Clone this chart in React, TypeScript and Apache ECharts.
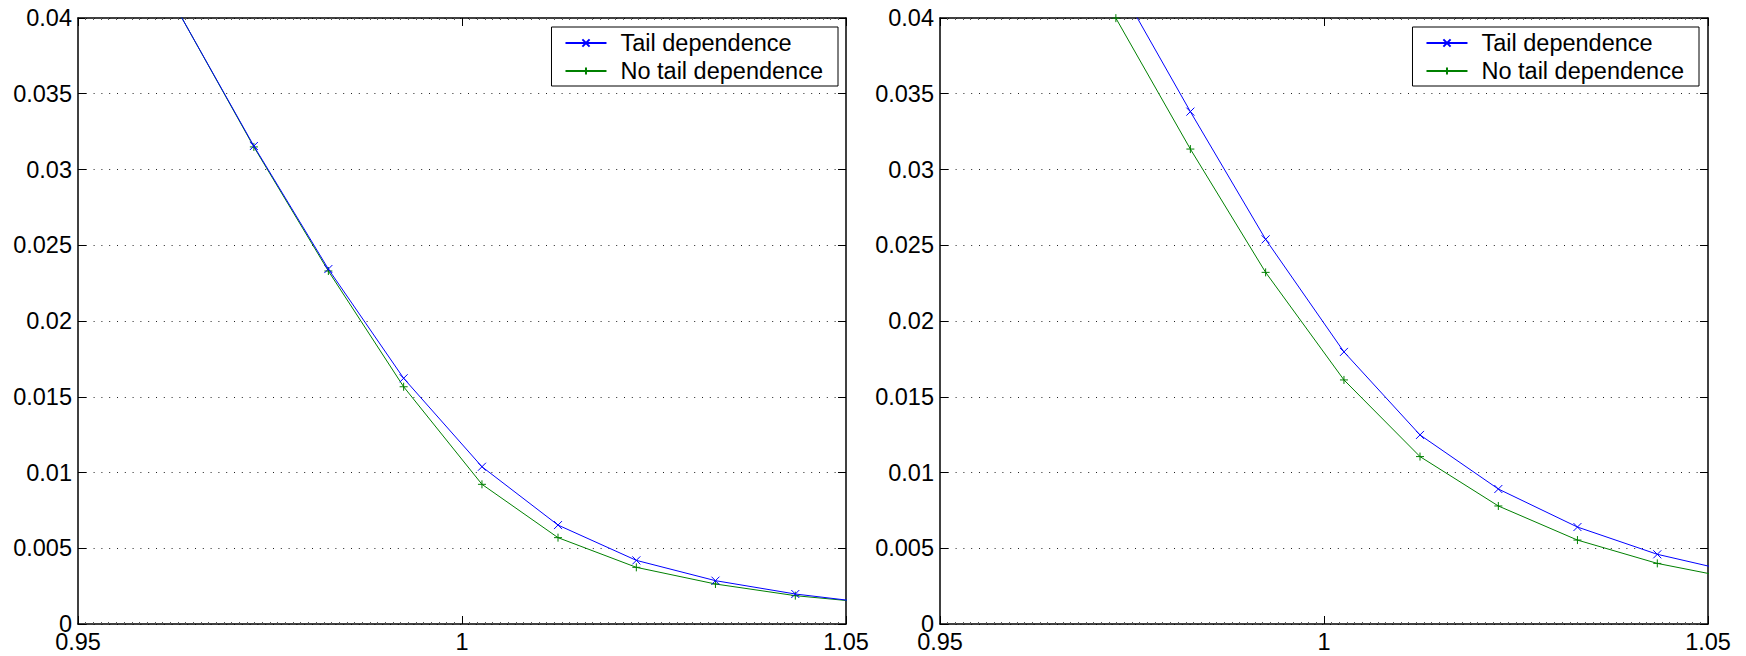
import React, { useEffect, useRef } from "react";
import * as echarts from "echarts";

// Shared x positions of the points
const X_VALUES = [0.9632, 0.9729, 0.9826, 0.9924, 1.0026, 1.0125, 1.0227, 1.033, 1.0434, 1.054];

// Left panel
const LEFT_TAIL = [0.0403, 0.03155, 0.02343, 0.01622, 0.01038, 0.00653, 0.0042, 0.00286, 0.00198, 0.00134];
const LEFT_NO_TAIL = [0.0403, 0.03149, 0.0233, 0.01566, 0.00922, 0.0057, 0.00374, 0.00264, 0.00187, 0.00136];

// Right panel
const RIGHT_TAIL = [0.0515, 0.0425, 0.03382, 0.02539, 0.01796, 0.01248, 0.00891, 0.0064, 0.0046, 0.00336];
const RIGHT_NO_TAIL = [0.0492, 0.03999, 0.03135, 0.02321, 0.01611, 0.01105, 0.00779, 0.00554, 0.004, 0.00294];

const SERIES_NAMES = ["Tail dependence", "No tail dependence"];
const X_MIN = 0.95;
const X_MAX = 1.05;
const X_STEP = 0.05;
const Y_MIN = 0;
const Y_MAX = 0.04;
const Y_STEP = 0.005;

const FONT = "'Liberation Sans', Arial, Helvetica, sans-serif";
const BLUE = "#0000ff";
const GREEN = "#008000";
const CROSS = "path://M0,0L10,10M10,0L0,10";
const PLUS = "path://M5,0L5,10M0,5L10,5";

export default function App() {
  const ref = useRef<HTMLDivElement>(null);

  useEffect(() => {
    if (!ref.current) return;
    const chart = echarts.init(ref.current, undefined, { renderer: "svg" });

    const grids = [
      { left: 78, top: 18, width: 768, height: 606 },
      { left: 940, top: 18, width: 768, height: 606 },
    ];

    const xAxes: any[] = [];
    const yAxes: any[] = [];
    grids.forEach((_, g) => {
      const baseX = {
        type: "value",
        gridIndex: g,
        min: X_MIN,
        max: X_MAX,
        interval: X_STEP,
        axisLine: { show: true, onZero: false, lineStyle: { color: "#000", width: 1.5 } },
        axisTick: { show: true, inside: true, length: 8, lineStyle: { color: "#000" } },
        minorTick: { show: true, splitNumber: 50, length: 2, lineStyle: { color: "#555" } },
        splitLine: { show: false },
      };
      xAxes.push({
        ...baseX,
        position: "bottom",
        axisLabel: {
          show: true,
          margin: 9,
          color: "#000",
          fontFamily: FONT,
          fontSize: 23.5,
          lineHeight: 17,
          formatter: (v: number) => String(parseFloat(v.toFixed(2))),
        },
      });
      xAxes.push({ ...baseX, position: "top", axisLabel: { show: false } });

      const baseY = {
        type: "value",
        gridIndex: g,
        min: Y_MIN,
        max: Y_MAX,
        interval: Y_STEP,
        axisLine: { show: true, onZero: false, lineStyle: { color: "#000", width: 1.5 } },
        axisTick: { show: true, inside: true, length: 8, lineStyle: { color: "#000" } },
      };
      yAxes.push({
        ...baseY,
        position: "left",
        splitLine: { show: true, lineStyle: { color: "#222", type: [1, 6.8], width: 1 } },
        axisLabel: {
          show: true,
          margin: 6,
          color: "#000",
          fontFamily: FONT,
          fontSize: 23.5,
          lineHeight: 17,
          formatter: (v: number) => String(parseFloat(v.toFixed(3))),
        },
      });
      yAxes.push({ ...baseY, position: "right", splitLine: { show: false }, axisLabel: { show: false } });
    });

    const mk = (name: string, vals: number[], color: string, symbol: string, g: number) => ({
      name,
      type: "line",
      xAxisIndex: g * 2,
      yAxisIndex: g * 2,
      data: X_VALUES.map((x, i) => [x, vals[i]]),
      clip: true,
      symbol,
      symbolSize: 8,
      showSymbol: true,
      lineStyle: { color, width: 1 },
      itemStyle: { color: "transparent", borderColor: color, borderWidth: 1 },
      emphasis: { disabled: true },
      z: name === SERIES_NAMES[0] ? 3 : 2,
    });

    const legendBase = {
      orient: "vertical",
      top: 27,
      itemWidth: 41,
      itemHeight: 9,
      itemGap: 4,
      padding: [4, 15, 3, 13],
      borderColor: "#000",
      borderWidth: 1,
      backgroundColor: "#fff",
      align: "left",
      selectedMode: false,
      textStyle: {
        color: "#000",
        fontFamily: FONT,
        fontSize: 23.5,
        lineHeight: 24,
        padding: [0, 0, 0, 9],
      },
      data: SERIES_NAMES,
    };

    chart.setOption({
      animation: false,
      backgroundColor: "#fff",
      grid: grids,
      xAxis: xAxes,
      yAxis: yAxes,
      legend: [
        { ...legendBase, right: 1746 - 838 },
        { ...legendBase, right: 1746 - 1699 },
      ],
      series: [
        mk(SERIES_NAMES[0], LEFT_TAIL, BLUE, CROSS, 0),
        mk(SERIES_NAMES[1], LEFT_NO_TAIL, GREEN, PLUS, 0),
        mk(SERIES_NAMES[0], RIGHT_TAIL, BLUE, CROSS, 1),
        mk(SERIES_NAMES[1], RIGHT_NO_TAIL, GREEN, PLUS, 1),
      ],
    });

    return () => chart.dispose();
  }, []);

  return (
    <div
      ref={ref}
      style={{ position: "absolute", left: 0, top: 0, width: 1746, height: 656 }}
    />
  );
}
